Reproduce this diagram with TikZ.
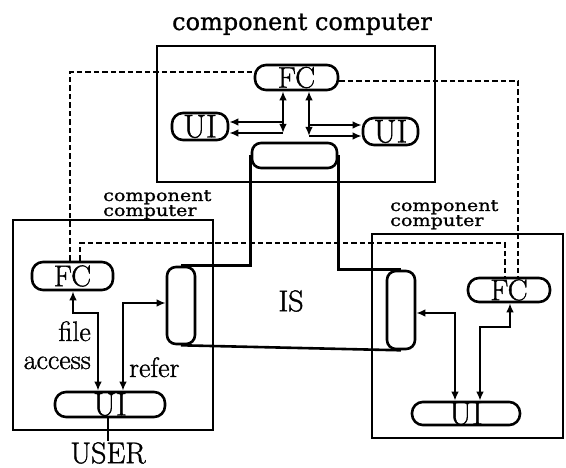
\documentclass[tikz,border=0pt]{standalone}
\usepackage{fontspec}
\newfontfamily\labfont{DejaVu Serif}[FakeBold=1]
\newfontfamily\heavyfont{Latin Modern Roman}[FakeBold=1.2]
\usetikzlibrary{arrows.meta,calc}
\newcommand{\widetxt}[1]{\scalebox{1.2}[1]{#1}}
\tikzset{
  ln/.style={line width=2.6pt},
  box/.style={draw, line width=2.7pt},
  pill/.style={draw, line width=2.6pt, rounded corners=11pt, inner sep=0pt},
  vpill/.style={draw, line width=2.6pt, rounded corners=9pt, inner sep=0pt, minimum width=28pt, minimum height=77pt},
  dsh/.style={line width=2.8pt, dash pattern=on 5.5pt off 3pt},
  tip/.style={-{Latex[length=9pt,width=7.5pt]}},
  both/.style={{Latex[length=9pt,width=7.5pt]}-{Latex[length=9pt,width=7.5pt]}},
  big/.style={font=\heavyfont\fontsize{30}{30}\selectfont, inner sep=1pt},
  uifont/.style={font=\heavyfont\fontsize{33}{33}\selectfont},
  small/.style={font=\labfont\fontsize{16}{16}\selectfont, inner sep=0pt},
  mid/.style={font=\heavyfont\fontsize{28}{28}\selectfont, inner sep=0pt}
}
\begin{document}
\begin{tikzpicture}[x=1pt,y=-1pt]
\useasboundingbox (0,0) rectangle (566,468);
% container boxes
\draw[box] (157,46) rectangle (435,182);
\draw[box] (13,220) rectangle (213,430);
\draw[box] (372,234) rectangle (563,438);
% titles
\node[font=\labfont\fontsize{24}{24}\selectfont, inner sep=0pt, anchor=base] (title) at (302,30) {component computer};
\node[small, anchor=base west] (ll1) at (103,201) {\widetxt{component}};
\node[small, anchor=base west] (ll2) at (103,216) {\widetxt{computer}};
\node[small, anchor=base west] (rl1) at (390,211) {\widetxt{component}};
\node[small, anchor=base west] (rl2) at (390,226) {\widetxt{computer}};
% top computer
\node[pill, minimum width=83pt, minimum height=25pt, big] (tfc) at (296.5,77.5) {FC};
\node[pill, minimum width=56pt, minimum height=27pt, uifont] (tuil) at (200,126.5) {UI};
\node[pill, minimum width=55pt, minimum height=27pt, uifont] (tuir) at (390.5,131.5) {UI};
\node[pill, rounded corners=9pt, minimum width=85pt, minimum height=25pt] (tis) at (294.5,155.5) {};
% left computer
\node[pill, minimum width=81pt, minimum height=28pt, big] (lfc) at (72.5,276) {FC};
\node[vpill] (lis) at (181,305.5) {};
\node[pill, minimum width=110pt, minimum height=25pt, uifont] (lui) at (110,404.5) {UI};
% right computer
\node[pill, minimum width=82pt, minimum height=24pt, big] (rfc) at (509,290) {FC};
\node[vpill, minimum height=78pt] (ris) at (401,310) {};
\node[pill, minimum width=108pt, minimum height=23pt, uifont] (rui) at (466,413.5) {UI};
% labels
\node[mid, anchor=base east] (file) at (91,341) {file};
\node[mid, anchor=base east] (access) at (91,369) {access};
\node[mid, anchor=base west] (refer) at (129,377) {refer};
\node[big] (isl) at (291,301) {IS};
\node[font=\heavyfont\fontsize{30}{30}\selectfont, inner sep=1pt, anchor=north] (user) at (108,441) {USER};
% IS outline
\draw[ln] (tis.west) -- (tis.west |- lis.north) -- (lis.north);
\draw[ln] (tis.east) -- (tis.east |- ris.north) -- (ris.north);
\draw[ln] (lis.south) -- (ris.south);
% top computer arrows
\coordinate (ta) at (283,122);
\coordinate (tb) at (283,133);
\coordinate (tc) at (309,125);
\coordinate (td) at (309,136);
\draw[ln,both] (tfc.south -| ta) -- (tb);
\draw[ln,tip] (ta) -- (tuil.east |- ta);
\draw[ln,tip] (tb) -- (tuil.east |- tb);
\draw[ln,both] (tfc.south -| tc) -- (td);
\draw[ln,tip] (tc) -- (tuir.west |- tc);
\draw[ln,tip] (td) -- (tuir.west |- td);
% left computer arrows
\coordinate (la) at (73,313);
\coordinate (lb) at (98,313);
\draw[ln,both] (lfc.south -| la) -- (la) -- (lb) -- (lui.north -| lb);
\coordinate (lc) at (123,303);
\draw[ln,both] (lui.north -| lc) -- (lc) -- (lis.west |- lc);
\draw[ln] (lui.south -| user.north) -- (user.north);
% right computer arrows
\coordinate (ra) at (455,313);
\draw[ln,both] (ris.east |- ra) -- (ra) -- (rui.north -| ra);
\coordinate (rb) at (510,327);
\coordinate (rc) at (480,327);
\draw[ln,both] (rfc.south -| rb) -- (rb) -- (rc) -- (rui.north -| rc);
% dashed links
\coordinate (d1) at (70,72);
\draw[dsh] (lfc.north -| d1) -- (d1) -- (tfc.west |- d1);
\coordinate (d2) at (80,243);
\coordinate (d3) at (505,243);
\draw[dsh] (lfc.north -| d2) -- (d2) -- (d3) -- (rfc.north -| d3);
\coordinate (d4) at (518,81);
\draw[dsh] (tfc.east |- d4) -- (d4) -- (rfc.north -| d4);
\end{tikzpicture}
\end{document}
